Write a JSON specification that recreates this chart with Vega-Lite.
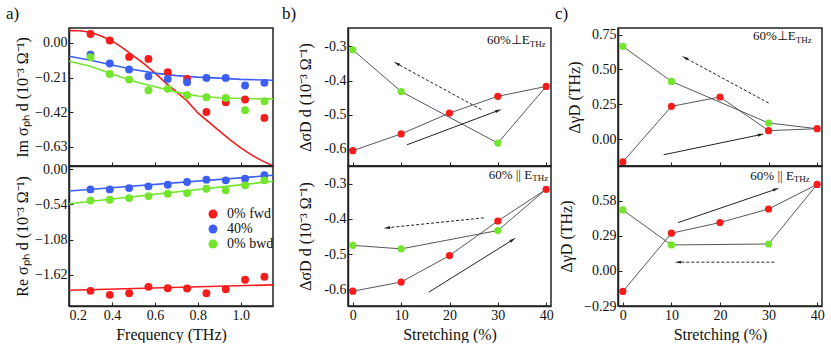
{
"$schema":"https://vega.github.io/schema/vega-lite/v6.json",
"padding":{"left":5,"top":3,"right":0,"bottom":0},
"spacing":6,
"config":{
 "font":"Liberation Serif, Times New Roman, serif",
 "view":{"stroke":"#222","strokeWidth":1.5},
 "axis":{"domainColor":"#222","domainWidth":1.5,"tickColor":"#222","tickSize":-4,"tickWidth":1,"labelFontSize":14,"titleFontSize":16,"labelColor":"#111","titleColor":"#111","grid":false,"labelFont":"Liberation Serif, Times New Roman, serif","titleFont":"Liberation Serif, Times New Roman, serif","titleFontWeight":"normal","labelPadding":6,"titlePadding":4},
 "legend":{"labelFontSize":14,"labelFont":"Liberation Serif, Times New Roman, serif","labelColor":"#111","symbolSize":80,"symbolType":"circle","symbolStrokeWidth":0,"labelOffset":7,"rowPadding":1,"padding":0},
 "title":{"font":"Liberation Serif, Times New Roman, serif","fontSize":17,"fontWeight":"normal","anchor":"start","frame":"group","color":"#111","offset":5},
 "text":{"font":"Liberation Serif, Times New Roman, serif"}
},
"datasets":{
 "im_pts":[
  {"f":0.3,"v":0.054,"s":"0% fwd"},{"f":0.39,"v":0.014,"s":"0% fwd"},{"f":0.48,"v":-0.085,"s":"0% fwd"},{"f":0.57,"v":-0.097,"s":"0% fwd"},{"f":0.66,"v":-0.177,"s":"0% fwd"},{"f":0.75,"v":-0.218,"s":"0% fwd"},{"f":0.84,"v":-0.418,"s":"0% fwd"},{"f":0.93,"v":-0.359,"s":"0% fwd"},{"f":1.02,"v":-0.343,"s":"0% fwd"},{"f":1.11,"v":-0.454,"s":"0% fwd"},
  {"f":0.3,"v":-0.071,"s":"40%"},{"f":0.39,"v":-0.125,"s":"40%"},{"f":0.48,"v":-0.161,"s":"40%"},{"f":0.57,"v":-0.202,"s":"40%"},{"f":0.66,"v":-0.218,"s":"40%"},{"f":0.75,"v":-0.238,"s":"40%"},{"f":0.84,"v":-0.212,"s":"40%"},{"f":0.93,"v":-0.212,"s":"40%"},{"f":1.02,"v":-0.258,"s":"40%"},{"f":1.11,"v":-0.242,"s":"40%"},
  {"f":0.3,"v":-0.087,"s":"0% bwd"},{"f":0.39,"v":-0.188,"s":"0% bwd"},{"f":0.48,"v":-0.222,"s":"0% bwd"},{"f":0.57,"v":-0.286,"s":"0% bwd"},{"f":0.66,"v":-0.278,"s":"0% bwd"},{"f":0.75,"v":-0.317,"s":"0% bwd"},{"f":0.84,"v":-0.329,"s":"0% bwd"},{"f":0.93,"v":-0.333,"s":"0% bwd"},{"f":1.02,"v":-0.407,"s":"0% bwd"},{"f":1.11,"v":-0.353,"s":"0% bwd"}
 ],
 "im_fit":[
  {"f":0.2,"v":0.074,"s":"0% fwd"},{"f":0.25,"v":0.073,"s":"0% fwd"},{"f":0.3,"v":0.064,"s":"0% fwd"},{"f":0.35,"v":0.041,"s":"0% fwd"},{"f":0.4,"v":0.012,"s":"0% fwd"},{"f":0.45,"v":-0.03,"s":"0% fwd"},{"f":0.5,"v":-0.079,"s":"0% fwd"},{"f":0.55,"v":-0.127,"s":"0% fwd"},{"f":0.6,"v":-0.182,"s":"0% fwd"},{"f":0.65,"v":-0.242,"s":"0% fwd"},{"f":0.7,"v":-0.297,"s":"0% fwd"},{"f":0.75,"v":-0.351,"s":"0% fwd"},{"f":0.8,"v":-0.424,"s":"0% fwd"},{"f":0.85,"v":-0.478,"s":"0% fwd"},{"f":0.9,"v":-0.533,"s":"0% fwd"},{"f":0.95,"v":-0.587,"s":"0% fwd"},{"f":1.0,"v":-0.635,"s":"0% fwd"},{"f":1.05,"v":-0.678,"s":"0% fwd"},{"f":1.1,"v":-0.714,"s":"0% fwd"},{"f":1.15,"v":-0.744,"s":"0% fwd"},
  {"f":0.2,"v":-0.081,"s":"40%"},{"f":0.3,"v":-0.105,"s":"40%"},{"f":0.4,"v":-0.134,"s":"40%"},{"f":0.5,"v":-0.161,"s":"40%"},{"f":0.6,"v":-0.183,"s":"40%"},{"f":0.7,"v":-0.198,"s":"40%"},{"f":0.8,"v":-0.207,"s":"40%"},{"f":0.9,"v":-0.213,"s":"40%"},{"f":1.0,"v":-0.221,"s":"40%"},{"f":1.15,"v":-0.226,"s":"40%"},
  {"f":0.2,"v":-0.111,"s":"0% bwd"},{"f":0.3,"v":-0.141,"s":"0% bwd"},{"f":0.4,"v":-0.188,"s":"0% bwd"},{"f":0.5,"v":-0.232,"s":"0% bwd"},{"f":0.6,"v":-0.265,"s":"0% bwd"},{"f":0.7,"v":-0.298,"s":"0% bwd"},{"f":0.8,"v":-0.321,"s":"0% bwd"},{"f":0.9,"v":-0.332,"s":"0% bwd"},{"f":1.0,"v":-0.337,"s":"0% bwd"},{"f":1.15,"v":-0.339,"s":"0% bwd"}
 ],
 "re_pts":[
  {"f":0.3,"v":-1.867,"s":"0% fwd"},{"f":0.39,"v":-1.929,"s":"0% fwd"},{"f":0.48,"v":-1.904,"s":"0% fwd"},{"f":0.57,"v":-1.806,"s":"0% fwd"},{"f":0.66,"v":-1.827,"s":"0% fwd"},{"f":0.75,"v":-1.832,"s":"0% fwd"},{"f":0.84,"v":-1.904,"s":"0% fwd"},{"f":0.93,"v":-1.842,"s":"0% fwd"},{"f":1.02,"v":-1.697,"s":"0% fwd"},{"f":1.11,"v":-1.651,"s":"0% fwd"},
  {"f":0.3,"v":-0.309,"s":"40%"},{"f":0.39,"v":-0.309,"s":"40%"},{"f":0.48,"v":-0.289,"s":"40%"},{"f":0.57,"v":-0.262,"s":"40%"},{"f":0.66,"v":-0.237,"s":"40%"},{"f":0.75,"v":-0.196,"s":"40%"},{"f":0.84,"v":-0.16,"s":"40%"},{"f":0.93,"v":-0.17,"s":"40%"},{"f":1.02,"v":-0.145,"s":"40%"},{"f":1.11,"v":-0.093,"s":"40%"},
  {"f":0.3,"v":-0.479,"s":"0% bwd"},{"f":0.39,"v":-0.469,"s":"0% bwd"},{"f":0.48,"v":-0.443,"s":"0% bwd"},{"f":0.57,"v":-0.412,"s":"0% bwd"},{"f":0.66,"v":-0.376,"s":"0% bwd"},{"f":0.75,"v":-0.366,"s":"0% bwd"},{"f":0.84,"v":-0.299,"s":"0% bwd"},{"f":0.93,"v":-0.324,"s":"0% bwd"},{"f":1.02,"v":-0.247,"s":"0% bwd"},{"f":1.11,"v":-0.17,"s":"0% bwd"}
 ],
 "re_fit":[
  {"f":0.2,"v":-1.857,"s":"0% fwd"},{"f":1.15,"v":-1.775,"s":"0% fwd"},
  {"f":0.2,"v":-0.335,"s":"40%"},{"f":1.15,"v":-0.093,"s":"40%"},
  {"f":0.2,"v":-0.53,"s":"0% bwd"},{"f":1.15,"v":-0.185,"s":"0% bwd"}
 ],
 "bt":[{"x":0,"v":-0.605,"g":"fwd","o":1},{"x":10,"v":-0.556,"g":"fwd","o":2},{"x":20,"v":-0.495,"g":"fwd","o":3},{"x":30,"v":-0.446,"g":"fwd","o":4},{"x":40,"v":-0.417,"g":"fwd","o":5},{"x":30,"v":-0.583,"g":"bwd","o":6},{"x":10,"v":-0.432,"g":"bwd","o":7},{"x":0,"v":-0.31,"g":"bwd","o":8}],
 "bb":[{"x":0,"v":-0.605,"g":"fwd","o":1},{"x":10,"v":-0.579,"g":"fwd","o":2},{"x":20,"v":-0.504,"g":"fwd","o":3},{"x":30,"v":-0.406,"g":"fwd","o":4},{"x":40,"v":-0.316,"g":"fwd","o":5},{"x":30,"v":-0.433,"g":"bwd","o":6},{"x":10,"v":-0.485,"g":"bwd","o":7},{"x":0,"v":-0.475,"g":"bwd","o":8}],
 "ct":[{"x":0,"v":-0.165,"g":"fwd","o":1},{"x":10,"v":0.235,"g":"fwd","o":2},{"x":20,"v":0.302,"g":"fwd","o":3},{"x":30,"v":0.06,"g":"fwd","o":4},{"x":40,"v":0.074,"g":"fwd","o":5},{"x":30,"v":0.115,"g":"bwd","o":6},{"x":10,"v":0.414,"g":"bwd","o":7},{"x":0,"v":0.666,"g":"bwd","o":8}],
 "cb":[{"x":0,"v":-0.17,"g":"fwd","o":1},{"x":10,"v":0.311,"g":"fwd","o":2},{"x":20,"v":0.399,"g":"fwd","o":3},{"x":30,"v":0.511,"g":"fwd","o":4},{"x":40,"v":0.714,"g":"fwd","o":5},{"x":30,"v":0.222,"g":"bwd","o":6},{"x":10,"v":0.214,"g":"bwd","o":7},{"x":0,"v":0.503,"g":"bwd","o":8}]
},
"hconcat":[
 {"vconcat":[
  {"width":204,"height":138,
   "title":{"text":"a)","dx":-63},
   "layer":[
    {"data":{"name":"im_fit"},"mark":{"type":"line","strokeWidth":1.6,"clip":true},
     "encoding":{
      "x":{"field":"f","type":"quantitative","scale":{"domain":[0.2,1.15],"nice":false},"axis":{"values":[0.2,0.4,0.6,0.8,1.0],"labels":false,"title":null}},
      "y":{"field":"v","type":"quantitative","scale":{"domain":[-0.745,0.09],"nice":false,"zero":false},"axis":{"values":[0,-0.21,-0.42,-0.63],"format":".2f","title":"Im σₚₕ d (10⁻³ Ω⁻¹)"}},
      "color":{"field":"s","type":"nominal","scale":{"domain":["0% fwd","40%","0% bwd"],"range":["#f51c1c","#3b5ff2","#72e52c"]},"legend":null}}},
    {"data":{"name":"im_pts"},"mark":{"type":"circle","size":62,"opacity":1},
     "encoding":{
      "x":{"field":"f","type":"quantitative"},
      "y":{"field":"v","type":"quantitative"},
      "color":{"field":"s","type":"nominal","legend":null}}}
   ]},
  {"width":204,"height":140,
   "layer":[
    {"data":{"name":"re_fit"},"mark":{"type":"line","strokeWidth":1.6,"clip":true},
     "encoding":{
      "x":{"field":"f","type":"quantitative","scale":{"domain":[0.2,1.15],"nice":false},"axis":{"values":[0.2,0.4,0.6,0.8,1.0],"format":".1f","title":"Frequency (THz)"}},
      "y":{"field":"v","type":"quantitative","scale":{"domain":[-2.1,0.05],"nice":false,"zero":false},"axis":{"values":[0,-0.54,-1.08,-1.62],"format":".2f","title":"Re σₚₕ d (10⁻³ Ω⁻¹)"}},
      "color":{"field":"s","type":"nominal","scale":{"domain":["0% fwd","40%","0% bwd"],"range":["#f51c1c","#3b5ff2","#72e52c"]},"legend":{"orient":"none","legendX":137,"legendY":41,"title":null}}}},
    {"data":{"name":"re_pts"},"mark":{"type":"circle","size":62,"opacity":1},
     "encoding":{
      "x":{"field":"f","type":"quantitative"},
      "y":{"field":"v","type":"quantitative"},
      "color":{"field":"s","type":"nominal"}}}
   ]}
  ],
  "spacing":0,"bounds":"flush","resolve":{"scale":{"color":"independent"}}},
 {"hconcat":[
 {"vconcat":[
  {"width":203,"height":138,
   "title":{"text":"b)","dx":-66},
   "layer":[
    {"data":{"name":"bt"},"mark":{"type":"line","color":"#444","strokeWidth":0.9},
     "encoding":{
      "x":{"field":"x","type":"quantitative","scale":{"domain":[-1,41],"nice":false},"axis":{"values":[0,10,20,30,40],"labels":false,"title":null}},
      "y":{"field":"v","type":"quantitative","scale":{"domain":[-0.65,-0.246],"nice":false,"zero":false},"axis":{"values":[-0.3,-0.4,-0.5,-0.6],"format":".1f","labelExpr":"replace(datum.label,'−','-')","title":"ΔσD d (10⁻³ Ω⁻¹)","titlePadding":10}},
      "order":{"field":"o"}}},
    {"data":{"name":"bt"},"transform":[{"filter":"datum.g=='fwd'"}],"mark":{"type":"circle","size":52,"opacity":1,"color":"#f51c1c"},
     "encoding":{"x":{"field":"x","type":"quantitative"},"y":{"field":"v","type":"quantitative"}}},
    {"data":{"name":"bt"},"transform":[{"filter":"datum.g=='bwd'"}],"mark":{"type":"circle","size":52,"opacity":1,"color":"#72e52c"},
     "encoding":{"x":{"field":"x","type":"quantitative"},"y":{"field":"v","type":"quantitative"}}},
    {"data":{"values":[{}]},"mark":{"type":"rule","color":"#222","strokeWidth":1},"encoding":{"x":{"datum":11.2},"y":{"datum":-0.588},"x2":{"datum":30},"y2":{"datum":-0.488}}},
    {"data":{"values":[{}]},"mark":{"type":"rule","color":"#222","strokeWidth":1,"strokeDash":[3,2]},"encoding":{"x":{"datum":26.6},"y":{"datum":-0.485},"x2":{"datum":9.2},"y2":{"datum":-0.351}}},
    {"data":{"values":[{}]},"mark":{"type":"point","shape":"M0,-1L0.35,0.6L-0.35,0.6Z","filled":true,"color":"#222","size":70,"angle":69,"opacity":1},"encoding":{"x":{"datum":30},"y":{"datum":-0.488}}},
    {"data":{"values":[{}]},"mark":{"type":"point","shape":"M0,-1L0.35,0.6L-0.35,0.6Z","filled":true,"color":"#222","size":70,"angle":299,"opacity":1},"encoding":{"x":{"datum":9.2},"y":{"datum":-0.351}}},
    {"data":{"values":[{}]},"mark":{"type":"text","text":"60%⊥E","align":"right","baseline":"alphabetic","fontSize":13,"color":"#111"},"encoding":{"x":{"datum":36.6},"y":{"datum":-0.293}}},
    {"data":{"values":[{}]},"mark":{"type":"text","text":"THz","align":"left","baseline":"alphabetic","fontSize":9,"dy":3,"color":"#111"},"encoding":{"x":{"datum":36.6},"y":{"datum":-0.293}}}
   ]},
  {"width":203,"height":140,
   "layer":[
    {"data":{"name":"bb"},"mark":{"type":"line","color":"#444","strokeWidth":0.9},
     "encoding":{
      "x":{"field":"x","type":"quantitative","scale":{"domain":[-1,41],"nice":false},"axis":{"values":[0,10,20,30,40],"title":"Stretching (%)"}},
      "y":{"field":"v","type":"quantitative","scale":{"domain":[-0.647,-0.25],"nice":false,"zero":false},"axis":{"values":[-0.3,-0.4,-0.5,-0.6],"format":".1f","labelExpr":"replace(datum.label,'−','-')","title":"ΔσD d (10⁻³ Ω⁻¹)","titlePadding":10}},
      "order":{"field":"o"}}},
    {"data":{"name":"bb"},"transform":[{"filter":"datum.g=='fwd'"}],"mark":{"type":"circle","size":52,"opacity":1,"color":"#f51c1c"},
     "encoding":{"x":{"field":"x","type":"quantitative"},"y":{"field":"v","type":"quantitative"}}},
    {"data":{"name":"bb"},"transform":[{"filter":"datum.g=='bwd'"}],"mark":{"type":"circle","size":52,"opacity":1,"color":"#72e52c"},
     "encoding":{"x":{"field":"x","type":"quantitative"},"y":{"field":"v","type":"quantitative"}}},
    {"data":{"values":[{}]},"mark":{"type":"rule","color":"#222","strokeWidth":1},"encoding":{"x":{"datum":15.7},"y":{"datum":-0.608},"x2":{"datum":33},"y2":{"datum":-0.46}}},
    {"data":{"values":[{}]},"mark":{"type":"rule","color":"#222","strokeWidth":1,"strokeDash":[3,2]},"encoding":{"x":{"datum":27.1},"y":{"datum":-0.397},"x2":{"datum":7.2},"y2":{"datum":-0.425}}},
    {"data":{"values":[{}]},"mark":{"type":"point","shape":"M0,-1L0.35,0.6L-0.35,0.6Z","filled":true,"color":"#222","size":70,"angle":58,"opacity":1},"encoding":{"x":{"datum":33},"y":{"datum":-0.46}}},
    {"data":{"values":[{}]},"mark":{"type":"point","shape":"M0,-1L0.35,0.6L-0.35,0.6Z","filled":true,"color":"#222","size":70,"angle":264,"opacity":1},"encoding":{"x":{"datum":7.2},"y":{"datum":-0.425}}},
    {"data":{"values":[{}]},"mark":{"type":"text","text":"60% || E","align":"right","baseline":"alphabetic","fontSize":13,"color":"#111"},"encoding":{"x":{"datum":37.1},"y":{"datum":-0.286}}},
    {"data":{"values":[{}]},"mark":{"type":"text","text":"THz","align":"left","baseline":"alphabetic","fontSize":9,"dy":2,"color":"#111"},"encoding":{"x":{"datum":37.1},"y":{"datum":-0.286}}}
   ]}
  ],
  "spacing":0,"bounds":"flush"},
 {"vconcat":[
  {"width":204,"height":138,
   "title":{"text":"c)","dx":-63},
   "layer":[
    {"data":{"name":"ct"},"mark":{"type":"line","color":"#444","strokeWidth":0.9},
     "encoding":{
      "x":{"field":"x","type":"quantitative","scale":{"domain":[-1,41],"nice":false},"axis":{"values":[0,10,20,30,40],"labels":false,"title":null}},
      "y":{"field":"v","type":"quantitative","scale":{"domain":[-0.194,0.798],"nice":false,"zero":false},"axis":{"values":[0,0.25,0.5,0.75],"format":".2f","title":"ΔγD (THz)","titlePadding":9}},
      "order":{"field":"o"}}},
    {"data":{"name":"ct"},"transform":[{"filter":"datum.g=='fwd'"}],"mark":{"type":"circle","size":52,"opacity":1,"color":"#f51c1c"},
     "encoding":{"x":{"field":"x","type":"quantitative"},"y":{"field":"v","type":"quantitative"}}},
    {"data":{"name":"ct"},"transform":[{"filter":"datum.g=='bwd'"}],"mark":{"type":"circle","size":52,"opacity":1,"color":"#72e52c"},
     "encoding":{"x":{"field":"x","type":"quantitative"},"y":{"field":"v","type":"quantitative"}}},
    {"data":{"values":[{}]},"mark":{"type":"rule","color":"#222","strokeWidth":1},"encoding":{"x":{"datum":8.4},"y":{"datum":-0.113},"x2":{"datum":28.3},"y2":{"datum":0.031}}},
    {"data":{"values":[{}]},"mark":{"type":"rule","color":"#222","strokeWidth":1,"strokeDash":[3,2]},"encoding":{"x":{"datum":30},"y":{"datum":0.259},"x2":{"datum":12.9},"y2":{"datum":0.582}}},
    {"data":{"values":[{}]},"mark":{"type":"point","shape":"M0,-1L0.35,0.6L-0.35,0.6Z","filled":true,"color":"#222","size":70,"angle":78,"opacity":1},"encoding":{"x":{"datum":28.3},"y":{"datum":0.031}}},
    {"data":{"values":[{}]},"mark":{"type":"point","shape":"M0,-1L0.35,0.6L-0.35,0.6Z","filled":true,"color":"#222","size":70,"angle":298,"opacity":1},"encoding":{"x":{"datum":12.9},"y":{"datum":0.582}}},
    {"data":{"values":[{}]},"mark":{"type":"text","text":"60%⊥E","align":"right","baseline":"alphabetic","fontSize":13,"color":"#111"},"encoding":{"x":{"datum":35.6},"y":{"datum":0.711}}},
    {"data":{"values":[{}]},"mark":{"type":"text","text":"THz","align":"left","baseline":"alphabetic","fontSize":9,"dy":3,"color":"#111"},"encoding":{"x":{"datum":35.6},"y":{"datum":0.711}}}
   ]},
  {"width":204,"height":140,
   "layer":[
    {"data":{"name":"cb"},"mark":{"type":"line","color":"#444","strokeWidth":0.9},
     "encoding":{
      "x":{"field":"x","type":"quantitative","scale":{"domain":[-1,41],"nice":false},"axis":{"values":[0,10,20,30,40],"title":"Stretching (%)"}},
      "y":{"field":"v","type":"quantitative","scale":{"domain":[-0.29,0.866],"nice":false,"zero":false},"axis":{"values":[-0.29,0,0.29,0.58],"format":".2f","title":"ΔγD (THz)","titlePadding":9}},
      "order":{"field":"o"}}},
    {"data":{"name":"cb"},"transform":[{"filter":"datum.g=='fwd'"}],"mark":{"type":"circle","size":52,"opacity":1,"color":"#f51c1c"},
     "encoding":{"x":{"field":"x","type":"quantitative"},"y":{"field":"v","type":"quantitative"}}},
    {"data":{"name":"cb"},"transform":[{"filter":"datum.g=='bwd'"}],"mark":{"type":"circle","size":52,"opacity":1,"color":"#72e52c"},
     "encoding":{"x":{"field":"x","type":"quantitative"},"y":{"field":"v","type":"quantitative"}}},
    {"data":{"values":[{}]},"mark":{"type":"rule","color":"#222","strokeWidth":1},"encoding":{"x":{"datum":11.4},"y":{"datum":0.399},"x2":{"datum":31.4},"y2":{"datum":0.673}}},
    {"data":{"values":[{}]},"mark":{"type":"rule","color":"#222","strokeWidth":1,"strokeDash":[3,2]},"encoding":{"x":{"datum":31.2},"y":{"datum":0.072},"x2":{"datum":11.5},"y2":{"datum":0.072}}},
    {"data":{"values":[{}]},"mark":{"type":"point","shape":"M0,-1L0.35,0.6L-0.35,0.6Z","filled":true,"color":"#222","size":70,"angle":71,"opacity":1},"encoding":{"x":{"datum":31.4},"y":{"datum":0.673}}},
    {"data":{"values":[{}]},"mark":{"type":"point","shape":"M0,-1L0.35,0.6L-0.35,0.6Z","filled":true,"color":"#222","size":70,"angle":270,"opacity":1},"encoding":{"x":{"datum":11.5},"y":{"datum":0.072}}},
    {"data":{"values":[{}]},"mark":{"type":"text","text":"60% || E","align":"right","baseline":"alphabetic","fontSize":13,"color":"#111"},"encoding":{"x":{"datum":35.2},"y":{"datum":0.75}}},
    {"data":{"values":[{}]},"mark":{"type":"text","text":"THz","align":"left","baseline":"alphabetic","fontSize":9,"dy":2,"color":"#111"},"encoding":{"x":{"datum":35.2},"y":{"datum":0.75}}}
   ]}
  ],
  "spacing":0,"bounds":"flush"}
 ],"spacing":0}
]
}
